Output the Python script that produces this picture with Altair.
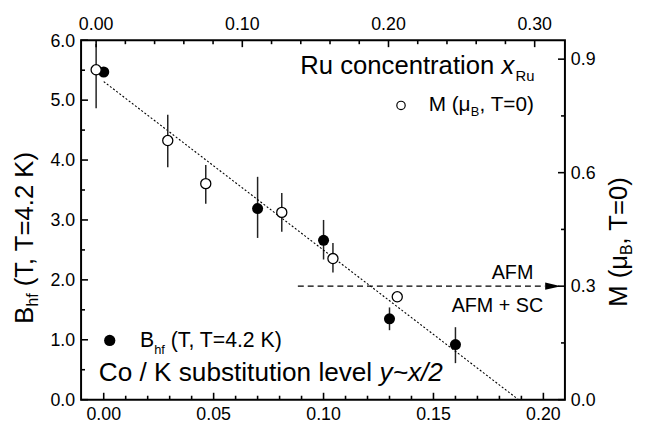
import altair as alt
import pandas as pd

# ---------------- data ----------------
# Co / K substitution level y (bottom axis) vs B_hf (left axis), filled circles
co_level = [0.00, 0.07, 0.10, 0.13, 0.16]
bhf = [5.47, 3.19, 2.66, 1.35, 0.92]
bhf_hi = [5.47, 3.72, 3.00, 1.54, 1.21]
bhf_lo = [5.47, 2.70, 2.34, 1.16, 0.61]

# Ru concentration x_Ru (top axis) vs M (right axis), open circles
ru_conc = [0.000, 0.049, 0.075, 0.127, 0.162, 0.206]
moment = [0.872, 0.685, 0.571, 0.495, 0.373, 0.272]
moment_hi = [0.940, 0.753, 0.620, 0.546, 0.414, 0.272]
moment_lo = [0.770, 0.614, 0.518, 0.444, 0.336, 0.272]

# dotted linear fit (bottom / left scales)
fit_y = [0.0, 0.1887]
fit_b = [5.31, 0.0]

# AFM boundary (top / right scales)
afm_x = [0.138, 0.307]
afm_m = [0.30, 0.30]
arrow_x = [0.3126]
arrow_m = [0.30]

# tick values
bottom_major = [0.00, 0.05, 0.10, 0.15, 0.20]
bottom_minor = [0.01, 0.02, 0.03, 0.04, 0.06, 0.07, 0.08, 0.09, 0.11, 0.12,
                0.13, 0.14, 0.16, 0.17, 0.18, 0.19]
left_major = [0.0, 1.0, 2.0, 3.0, 4.0, 5.0, 6.0]
left_minor = [0.5, 1.5, 2.5, 3.5, 4.5, 5.5]
top_major = [0.00, 0.10, 0.20, 0.30]
top_minor = [0.02, 0.04, 0.06, 0.08, 0.12, 0.14, 0.16, 0.18, 0.22, 0.24,
             0.26, 0.28]
right_major = [0.0, 0.3, 0.6, 0.9]
right_minor = [0.15, 0.45, 0.75]

# ---------------- chart ----------------
W, H = 490, 364
FONT = "Liberation Sans"
MAJ, MIN = 7, 4
LBL = 18

xa = alt.Scale(domain=[-0.0103, 0.2098], nice=False, zero=False)
ya = alt.Scale(domain=[0, 6], nice=False, zero=False)
xb = alt.Scale(domain=[-0.0103, 0.3207], nice=False, zero=False)
yb = alt.Scale(domain=[0, 0.95], nice=False, zero=False)

df_b = pd.DataFrame({"y": co_level, "b": bhf, "hi": bhf_hi, "lo": bhf_lo})
df_m = pd.DataFrame({"x": ru_conc, "m": moment, "hi": moment_hi, "lo": moment_lo})
df_fit = pd.DataFrame({"y": fit_y, "b": fit_b})
df_afm = pd.DataFrame({"x": afm_x, "m": afm_m})
df_arrow = pd.DataFrame({"x": arrow_x, "m": arrow_m})
one = pd.DataFrame({"k": [0]})


def XA(f, **kw):
    return alt.X(f, scale=xa, axis=None, **kw)


def YA(f, **kw):
    return alt.Y(f, scale=ya, axis=None, **kw)


def XB(f, **kw):
    return alt.X(f, scale=xb, axis=None, **kw)


def YB(f, **kw):
    return alt.Y(f, scale=yb, axis=None, **kw)


def label(text, x, y, size, align="left", style="normal", angle=0, dx=0, dy=0):
    kw = dict(align=align, baseline="alphabetic", font=FONT, fontSize=size,
              color="black", fontStyle=style, dx=dx, dy=dy)
    if angle:
        kw["angle"] = angle
    return alt.Chart(one).mark_text(**kw).encode(
        x=alt.value(x), y=alt.value(y), text=alt.value(text))


def tick_df(vals):
    return pd.DataFrame({"t": vals})


def rule(vals, **enc):
    return alt.Chart(tick_df(vals)).mark_rule(color="black", strokeWidth=1.6).encode(**enc)


def tick_text(vals, fmt, align, dy=0, **enc):
    return alt.Chart(tick_df(vals)).mark_text(
        font=FONT, fontSize=LBL, color="black", align=align,
        baseline="alphabetic", dy=dy).encode(
        text=alt.Text("t:Q", format=fmt), **enc)


# ---- layer A: bottom / left scales ----
err_a = alt.Chart(df_b).mark_rule(color="#222222", strokeWidth=1.5).encode(
    x=XA("y:Q"), y=YA("lo:Q"), y2="hi:Q")
fit = alt.Chart(df_fit).mark_line(color="black", strokeWidth=1.1,
                                  strokeDash=[2, 2]).encode(
    x=XA("y:Q"), y=YA("b:Q"))
pts_a = alt.Chart(df_b).mark_circle(color="black", size=125, opacity=1).encode(
    x=XA("y:Q"), y=YA("b:Q"))

ticks_a = [
    rule(bottom_major, x=XA("t:Q"), y=alt.value(H), y2=alt.value(H - MAJ)),
    rule(bottom_minor, x=XA("t:Q"), y=alt.value(H), y2=alt.value(H - MIN)),
    rule(left_major, y=YA("t:Q"), x=alt.value(0), x2=alt.value(MAJ)),
    rule(left_minor, y=YA("t:Q"), x=alt.value(0), x2=alt.value(MIN)),
    tick_text(bottom_major, ".2f", "center", x=XA("t:Q"), y=alt.value(H + 21)),
    tick_text(left_major, ".1f", "right", dy=6.4, y=YA("t:Q"), x=alt.value(-6)),
]

F_BIG = 26
texts = [
    # top-right title: Ru concentration x_Ru
    label("Ru concentration", 222, 34, F_BIG),
    label("x", 425.8, 34, F_BIG, style="italic"),
    label("Ru", 440, 41, 15),
    # legend: open circle  M (mu_B, T=0)
    label("M (\u03bc", 352, 72, 21),
    label("B", 394.5, 77, 13),
    label(", T=0)", 403.5, 72, 21),
    # AFM labels
    label("AFM", 458, 242, 20, align="right"),
    label("AFM + SC", 468, 275, 20, align="right"),
    # legend: filled circle  B_hf (T, T=4.2 K)
    label("B", 59.7, 310.3, 21.5),
    label("hf", 74, 318, 13),
    label("(T, T=4.2 K)", 90.8, 310.3, 21.5),
    # bottom-left title
    label("Co / K substitution level", 18, 345.3, 26.5),
    label("y~x/2", 302.3, 345.3, 26.5, style="italic"),
    # left axis title (rotated)
    label("B", -49, 287, 26, angle=270),
    label("hf", -49, 287, 16, angle=270, dx=17.3, dy=5),
    label("(T, T=4.2 K)", -49, 287, 26, angle=270, dx=37.8),
    # right axis title (rotated)
    label("M (\u03bc", 553, 270, 26, angle=270),
    label("B", 553, 270, 16, angle=270, dx=52.5, dy=5),
    label(", T=0)", 553, 270, 26, angle=270, dx=63.2),
]

legend_filled = alt.Chart(one).mark_circle(color="black", size=130, opacity=1).encode(
    x=alt.value(29), y=alt.value(304))
legend_open = alt.Chart(one).mark_circle(fill="white", stroke="black", strokeWidth=1.2,
                                         size=72, opacity=1).encode(
    x=alt.value(324), y=alt.value(66))

layer_a = alt.layer(err_a, fit, pts_a, *ticks_a, legend_filled, legend_open, *texts)

# ---- layer B: top / right scales ----
err_b = alt.Chart(df_m).mark_rule(color="#222222", strokeWidth=1.5).encode(
    x=XB("x:Q"), y=YB("lo:Q"), y2="hi:Q")
pts_b = alt.Chart(df_m).mark_circle(fill="white", stroke="black", strokeWidth=1.3,
                                    size=105, opacity=1).encode(
    x=XB("x:Q"), y=YB("m:Q"))
afm = alt.Chart(df_afm).mark_line(color="black", strokeWidth=1.2,
                                  strokeDash=[6, 4]).encode(
    x=XB("x:Q"), y=YB("m:Q"))
arrow = alt.Chart(df_arrow).mark_point(
    shape="M-1,-0.45L1,0L-1,0.45Z", size=256, filled=True, color="black",
    opacity=1).encode(x=XB("x:Q"), y=YB("m:Q"))

ticks_b = [
    rule(top_major, x=XB("t:Q"), y=alt.value(0), y2=alt.value(MAJ)),
    rule(top_minor, x=XB("t:Q"), y=alt.value(0), y2=alt.value(MIN)),
    rule(right_major, y=YB("t:Q"), x=alt.value(W), x2=alt.value(W - MAJ)),
    rule(right_minor, y=YB("t:Q"), x=alt.value(W), x2=alt.value(W - MIN)),
    tick_text(top_major, ".2f", "center", x=XB("t:Q"), y=alt.value(-10)),
    tick_text(right_major, ".1f", "left", dy=6.4, y=YB("t:Q"), x=alt.value(W + 6)),
]

layer_b = alt.layer(afm, arrow, err_b, pts_b, *ticks_b)

chart = (
    alt.layer(layer_a, layer_b)
    .resolve_scale(x="independent", y="independent")
    .properties(
        width=W,
        height=H,
        autosize=alt.AutoSizeParams(type="none"),
        padding={"left": 74, "top": 30, "right": 74, "bottom": 24},
        background="white",
    )
    .configure_view(stroke="black", strokeWidth=2)
)

chart.save("out.html", embed_options={"renderer": "svg", "actions": False})
